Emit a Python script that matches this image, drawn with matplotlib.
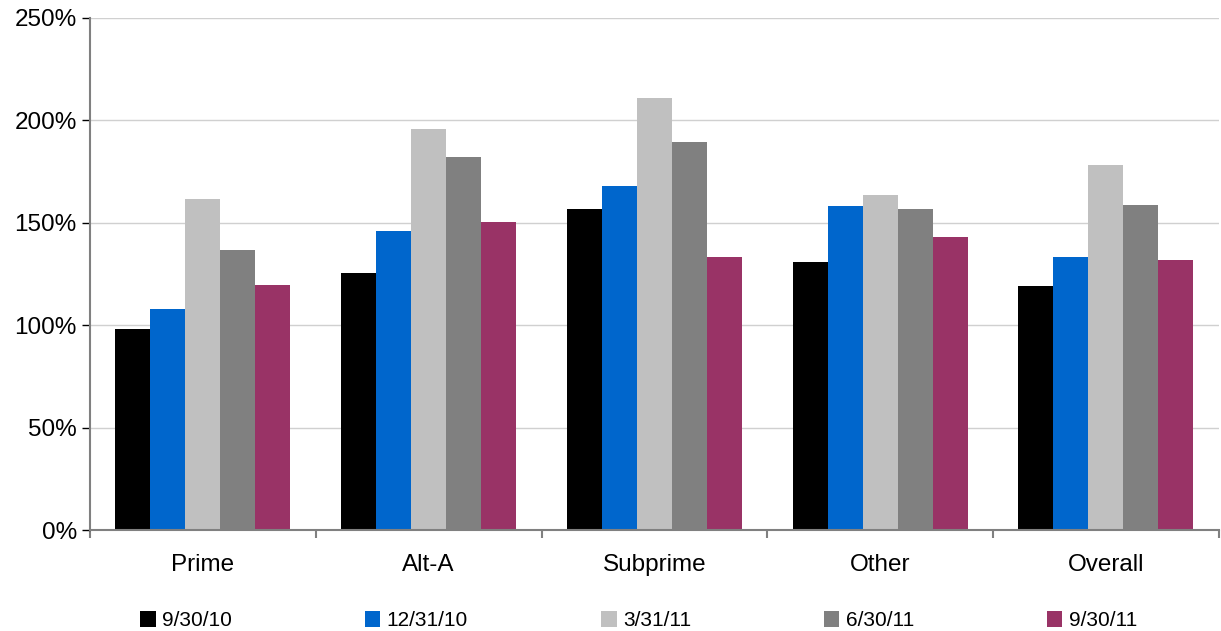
import matplotlib
matplotlib.use('Agg')
import matplotlib.pyplot as plt
import numpy as np
from matplotlib.ticker import MultipleLocator, FuncFormatter

plt.rcParams['font.family'] = ['Liberation Sans', 'DejaVu Sans']

categories = ['Prime', 'Alt-A', 'Subprime', 'Other', 'Overall']
series_names = ['9/30/10', '12/31/10', '3/31/11', '6/30/11', '9/30/11']
values = {
    '9/30/10':  [98.1, 125.5, 156.7, 130.9, 119.1],
    '12/31/10': [107.9, 146.0, 168.0, 158.2, 133.3],
    '3/31/11':  [161.6, 195.8, 210.9, 163.6, 178.2],
    '6/30/11':  [136.7, 182.0, 189.5, 156.7, 158.7],
    '9/30/11':  [119.6, 150.4, 133.3, 143.0, 131.8],
}
colors = ['#000000', '#0066CC', '#C0C0C0', '#808080', '#993366']

fig = plt.figure(figsize=(12.21, 6.31), dpi=100)
ax = fig.add_axes([0.0737, 0.160, 0.9245, 0.8115])

x = np.arange(len(categories))
bw = 0.155
handles = []
for i, name in enumerate(series_names):
    b = ax.bar(x + (i - 2) * bw, values[name], width=bw, color=colors[i],
               label=name, zorder=3)
    handles.append(b)

ax.set_xlim(-0.5, len(categories) - 0.5)
ax.set_ylim(0, 250)
ax.yaxis.set_major_locator(MultipleLocator(50))
ax.yaxis.set_major_formatter(FuncFormatter(lambda v, p: '%d%%' % v))
ax.grid(axis='y', color='#D0D0D0', linewidth=1, zorder=0)

# category boundary ticks
ax.set_xticks(np.arange(-0.5, len(categories), 1.0))
ax.set_xticklabels([])
ax.set_xticks(x, minor=True)
ax.set_xticklabels(categories, minor=True, fontsize=17.5)
ax.tick_params(axis='x', which='minor', length=0, pad=17)
ax.tick_params(axis='x', which='major', length=6, color='#808080', width=1.5)
ax.tick_params(axis='y', length=6, color='#000000', width=1, labelsize=17.5)

for s in ['top', 'right']:
    ax.spines[s].set_visible(False)
ax.spines['left'].set_color('#808080')
ax.spines['left'].set_linewidth(1.5)
ax.spines['bottom'].set_color('#808080')
ax.spines['bottom'].set_linewidth(1.5)
ax.spines['bottom'].set_zorder(4)

fig.legend(handles=handles, loc='lower left', ncol=5,
           bbox_to_anchor=(0.108, -0.012, 0.83, 0.06), mode='expand',
           frameon=False, fontsize=15, handlelength=0.75, handleheight=0.75,
           handletextpad=0.3, borderaxespad=0.0)

fig.savefig('out.png', dpi=100)
